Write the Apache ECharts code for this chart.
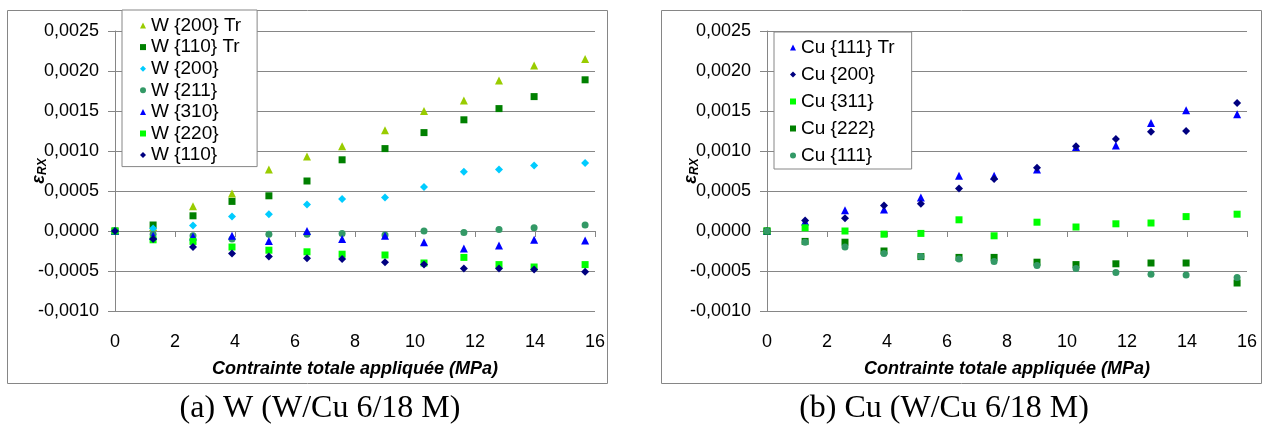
<!DOCTYPE html>
<html>
<head>
<meta charset="utf-8">
<script src="https://cdn.jsdelivr.net/npm/echarts@6/dist/echarts.min.js"></script>
<style>
html,body{margin:0;padding:0;background:#fff;}
#chart{width:1264px;height:428px;}
</style>
</head>
<body>
<div id="chart"></div>
<script>
// ---- data ----
const stress = [0, 1.27, 2.6, 3.9, 5.13, 6.4, 7.57, 9.0, 10.3, 11.63, 12.8, 13.97, 15.67];
const xTicks = [0, 2, 4, 6, 8, 10, 12, 14, 16];
const yTicks = [-0.0010, -0.0005, 0.0000, 0.0005, 0.0010, 0.0015, 0.0020, 0.0025];

const wNames = ['W {200} Tr', 'W {110} Tr', 'W {200}', 'W {211}', 'W {310}', 'W {220}', 'W {110}'];
const w200Tr = [0, 0.00005, 0.00031, 0.00047, 0.00077, 0.00093, 0.00106, 0.00126, 0.00150, 0.00163, 0.00188, 0.00207, 0.00215];
const w110Tr = [0, 0.000075, 0.00019, 0.00037, 0.00044, 0.000625, 0.00089, 0.00103, 0.00123, 0.00139, 0.00153, 0.00168, 0.00189];
const w200 = [0, 0.00003, 0.00007, 0.00018, 0.00021, 0.00033, 0.00040, 0.00042, 0.00055, 0.00074, 0.00077, 0.00082, 0.00085];
const w211 = [0, -0.00004, -0.00006, -0.00010, -0.00004, -0.00004, -0.00003, -0.00005, 0.00000, -0.00002, 0.00002, 0.00004, 0.000075];
const w310 = [0, -0.00006, -0.00007, -0.00006, -0.000125, 0.00000, -0.00010, -0.00006, -0.00014, -0.00022, -0.00018, -0.00011, -0.00012];
const w220 = [0, -0.00011, -0.00013, -0.00020, -0.00024, -0.00026, -0.00029, -0.00030, -0.00040, -0.00033, -0.00042, -0.00045, -0.00042];
const w110 = [0, -0.00010, -0.00020, -0.00028, -0.00032, -0.00034, -0.00035, -0.00039, -0.00042, -0.00047, -0.00047, -0.00048, -0.00051];

const cuNames = ['Cu {111} Tr', 'Cu {200}', 'Cu {311}', 'Cu {222}', 'Cu {111}'];
const cu111Tr = [0, 0.00012, 0.00026, 0.00027, 0.00042, 0.00069, 0.00069, 0.00077, 0.00105, 0.00107, 0.00135, 0.00151, 0.00146];
const cu200 = [0, 0.00013, 0.00016, 0.00032, 0.00034, 0.00053, 0.00065, 0.00079, 0.00106, 0.00115, 0.00124, 0.00125, 0.00160];
const cu311 = [0, 0.00004, 0.00000, -0.00004, -0.00003, 0.00014, -0.00006, 0.00011, 0.00005, 0.00009, 0.00010, 0.00018, 0.00021];
const cu222 = [0, -0.00013, -0.00014, -0.00025, -0.00032, -0.00033, -0.00033, -0.00039, -0.00042, -0.00041, -0.00040, -0.00040, -0.00065];
const cu111 = [0, -0.00014, -0.00020, -0.00028, -0.00032, -0.00035, -0.00038, -0.00043, -0.00047, -0.00052, -0.00054, -0.00055, -0.00058];

const xTitle = 'Contrainte totale appliquée (MPa)';
const captions = ['(a) W (W/Cu 6/18 M)', '(b) Cu (W/Cu 6/18 M)'];

// ---- styles ----
const FONT = '"Liberation Sans", Arial, sans-serif';
const GRAY = '#868686';
const C = {
  ygreen: '#99CC00', dgreen: '#008000', lblue: '#00CCFF', teal: '#339966',
  blue: '#0000FF', bgreen: '#00FF00', navy: '#000080'
};
const SYM = {
  tri: {symbol: 'triangle', size: 8},
  sq: {symbol: 'rect', size: 7},
  dia: {symbol: 'diamond', size: 8},
  cir: {symbol: 'circle', size: 7}
};

function pairs(arr) { return stress.map((x, i) => [x, arr[i]]); }
function mk(name, arr, sym, color, idx) {
  return {
    type: 'scatter', name: name, data: pairs(arr),
    xAxisIndex: idx * 2, yAxisIndex: idx,
    symbol: SYM[sym].symbol, symbolSize: SYM[sym].size,
    itemStyle: {color: color, opacity: 1},
    emphasis: {disabled: true}, animation: false
  };
}

function fmtY(v) { return (Math.abs(v) < 1e-12 ? 0 : v).toFixed(4).replace('.', ','); }

const grids = [
  {left: 115, top: 31, width: 480, height: 280},
  {left: 767, top: 31, width: 480, height: 280}
];

const xAxes = [];
const yAxes = [];
[0, 1].forEach(g => {
  // bottom label axis
  xAxes.push({
    type: 'value', gridIndex: g, min: xTicks[0], max: xTicks[xTicks.length - 1], interval: xTicks[1] - xTicks[0],
    position: 'bottom',
    axisLine: {show: false, onZero: false}, axisTick: {show: false}, splitLine: {show: false},
    axisLabel: {fontFamily: FONT, fontSize: 18, color: '#000', margin: 22},
    name: xTitle, nameLocation: 'middle', nameGap: 49,
    nameTextStyle: {fontFamily: FONT, fontSize: 18, fontWeight: 'bold', fontStyle: 'italic', color: '#000'}
  });
  // zero-line axis with ticks
  xAxes.push({
    type: 'value', gridIndex: g, min: xTicks[0], max: xTicks[xTicks.length - 1], interval: xTicks[1] - xTicks[0],
    position: 'bottom',
    axisLine: {show: true, onZero: true, lineStyle: {color: GRAY, width: 1}},
    axisTick: {show: true, length: 6, lineStyle: {color: GRAY}},
    axisLabel: {show: false}, splitLine: {show: false}
  });
  yAxes.push({
    type: 'value', gridIndex: g, min: yTicks[0], max: yTicks[yTicks.length - 1], interval: yTicks[1] - yTicks[0],
    axisLine: {show: true, onZero: false, lineStyle: {color: GRAY, width: 1}},
    axisTick: {show: true, length: 7, lineStyle: {color: GRAY}},
    splitLine: {show: true, lineStyle: {color: GRAY, width: 1}},
    axisLabel: {fontFamily: FONT, fontSize: 18, color: '#000', margin: 16, formatter: fmtY},
    name: '{e|ε}{s|RX}', nameLocation: 'middle', nameGap: 66, nameMoveOverlap: false,
    nameTextStyle: {
      rich: {
        e: {fontFamily: FONT, fontSize: 18, fontWeight: 'bold', fontStyle: 'italic', color: '#000'},
        s: {fontFamily: FONT, fontSize: 12, fontWeight: 'bold', fontStyle: 'italic', color: '#000', padding: [8, 0, 0, 0]}
      }
    }
  });
});

const series = [
  mk(wNames[0], w200Tr, 'tri', C.ygreen, 0),
  mk(wNames[1], w110Tr, 'sq', C.dgreen, 0),
  mk(wNames[2], w200, 'dia', C.lblue, 0),
  mk(wNames[3], w211, 'cir', C.teal, 0),
  mk(wNames[4], w310, 'tri', C.blue, 0),
  mk(wNames[5], w220, 'sq', C.bgreen, 0),
  mk(wNames[6], w110, 'dia', C.navy, 0),
  mk(cuNames[0], cu111Tr, 'tri', C.blue, 1),
  mk(cuNames[1], cu200, 'dia', C.navy, 1),
  mk(cuNames[2], cu311, 'sq', C.bgreen, 1),
  mk(cuNames[3], cu222, 'sq', C.dgreen, 1),
  mk(cuNames[4], cu111, 'cir', C.teal, 1)
];

const legendBase = {
  orient: 'vertical', selectedMode: false,
  itemWidth: 6, itemHeight: 6,
  backgroundColor: '#fff', borderColor: GRAY, borderWidth: 1, borderRadius: 0,
  textStyle: {fontFamily: FONT, fontSize: 19, lineHeight: 18, color: '#000'}
};

const option = {
  animation: false,
  backgroundColor: '#fff',
  grid: grids,
  xAxis: xAxes,
  yAxis: yAxes,
  legend: [
    Object.assign({}, legendBase, {data: wNames, left: 122, top: 10, itemGap: 2.6, padding: [6, 16, 2, 18]}),
    Object.assign({}, legendBase, {data: cuNames, left: 774, top: 32, itemGap: 8, padding: [6, 17, 4, 16]})
  ],
  graphic: [
    {type: 'rect', z: -10, silent: true, shape: {x: 7.5, y: 10.5, width: 600, height: 373}, style: {fill: 'none', stroke: GRAY, lineWidth: 1}},
    {type: 'rect', z: -10, silent: true, shape: {x: 661.5, y: 10.5, width: 600, height: 373}, style: {fill: 'none', stroke: GRAY, lineWidth: 1}},
    {type: 'text', silent: true, x: 320, y: 409, style: {text: captions[0], font: '32px "Liberation Serif", "Times New Roman", serif', fill: '#000', textAlign: 'center', textVerticalAlign: 'middle'}},
    {type: 'text', silent: true, x: 944, y: 409, style: {text: captions[1], font: '32px "Liberation Serif", "Times New Roman", serif', fill: '#000', textAlign: 'center', textVerticalAlign: 'middle'}}
  ],
  series: series
};

const chart = echarts.init(document.getElementById('chart'), null, {renderer: 'canvas'});
chart.setOption(option);
</script>
</body>
</html>
